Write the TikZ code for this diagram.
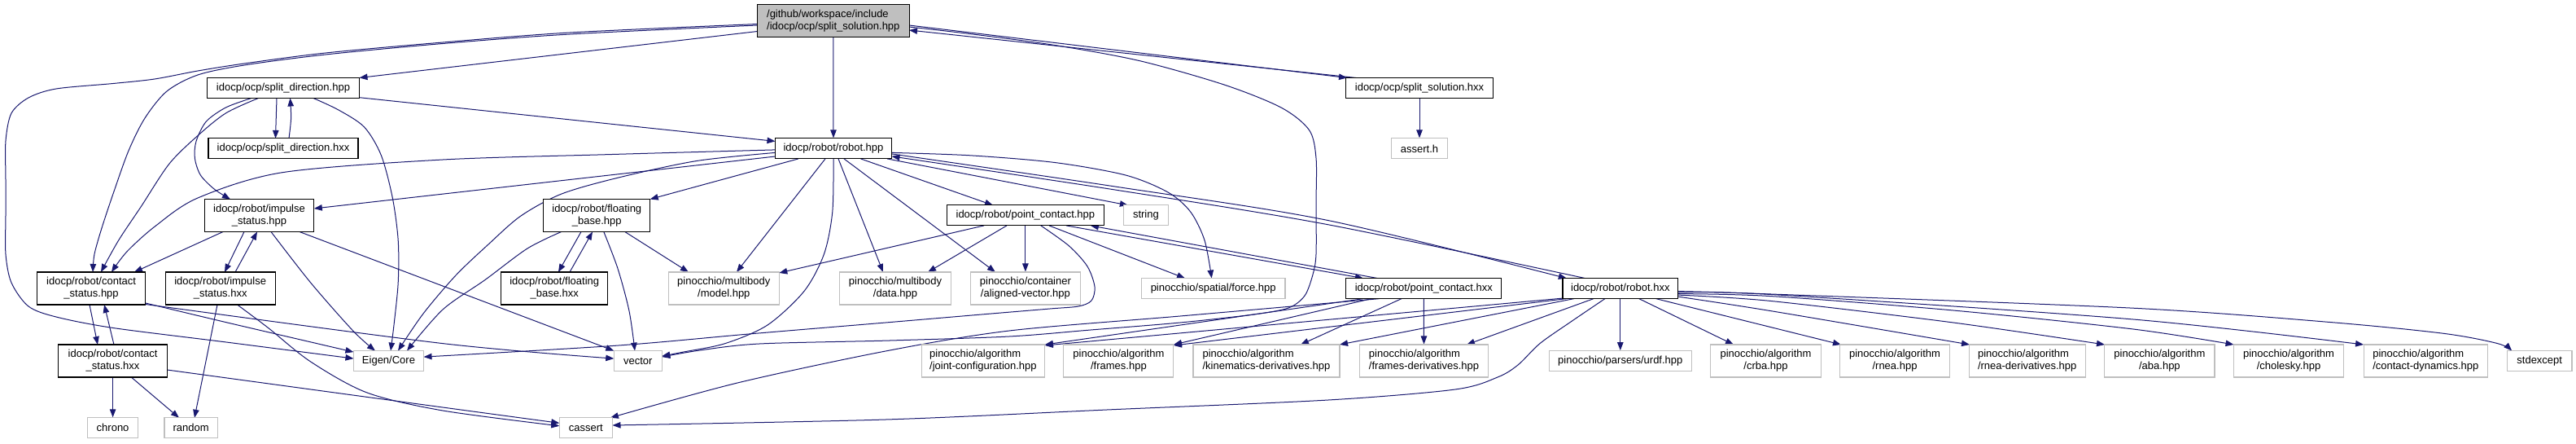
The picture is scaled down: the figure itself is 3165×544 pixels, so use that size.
\documentclass[tikz,border=0pt]{standalone}
\usepackage{fontspec}
\setmainfont{Liberation Sans}
\newfontfamily\nodefam{Liberation Sans}
\newcommand\nodefont{\nodefam\fontsize{13pt}{15pt}\selectfont}
\usetikzlibrary{arrows.meta,calc,backgrounds}
\definecolor{edgecol}{RGB}{25,25,112}
\definecolor{extgray}{RGB}{191,191,191}
\tikzset{
 base/.style={rectangle, inner sep=0pt, line width=1.1pt, font=\nodefont, align=center},
 int/.style={base, draw=black, fill=white},
 ext/.style={base, draw=extgray, fill=white},
 topnode/.style={base, draw=black, fill=extgray},
 one/.style={minimum height=25pt},
 two/.style={minimum height=40pt},
 bw/.style={minimum width=#1pt},
 conn/.style={draw=edgecol, line width=1pt, -{Triangle[length=10pt,width=7.5pt]}},
 sm/.style={smooth, tension=0.5},
}
\begin{document}
\begin{tikzpicture}[x=1pt,y=-1pt]
\useasboundingbox (0,0) rectangle (3165,544);
% nodes
\node[topnode,bw=186.5,two,align=left] (SS) at (1023.8,25.5) {/github/workspace/include\\/idocp/ocp/split\_solution.hpp};
\node[int,bw=187,one] (SDhpp) at (348,108) {idocp/ocp/split\_direction.hpp};
\node[int,bw=180.4,one] (SShxx) at (1744,108) {idocp/ocp/split\_solution.hxx};
\node[int,bw=184,one] (SDhxx) at (348,182.4) {idocp/ocp/split\_direction.hxx};
\node[int,bw=143,one] (RBhpp) at (1024,182.4) {idocp/robot/robot.hpp};
\node[ext,bw=68.4,one] (asserth) at (1744,182.4) {assert.h};
\node[int,bw=134.6,two] (IShpp) at (318.5,264.5) {idocp/robot/impulse\\\_status.hpp};
\node[int,bw=130.8,two] (FBhpp) at (733.3,264.5) {idocp/robot/floating\\\_base.hpp};
\node[int,bw=192.6,one] (PChpp) at (1259.9,264.4) {idocp/robot/point\_contact.hpp};
\node[ext,bw=54.8,one] (string) at (1407.9,264.4) {string};
\node[int,bw=133.2,two] (CShpp) at (112.1,354) {idocp/robot/contact\\\_status.hpp};
\node[int,bw=134.7,two] (IShxx) at (270.7,354) {idocp/robot/impulse\\\_status.hxx};
\node[int,bw=130.8,two] (FBhxx) at (681.2,354) {idocp/robot/floating\\\_base.hxx};
\node[ext,bw=136.1,two] (model) at (889.3,354) {pinocchio/multibody\\/model.hpp};
\node[ext,bw=136.3,two] (data) at (1100,354) {pinocchio/multibody\\/data.hpp};
\node[ext,bw=135,two] (aligned) at (1259.9,354) {pinocchio/container\\/aligned-vector.hpp};
\node[ext,bw=176.6,one] (force) at (1490.7,354.1) {pinocchio/spatial/force.hpp};
\node[int,bw=190.8,one] (PChxx) at (1749.3,354.1) {idocp/robot/point\_contact.hxx};
\node[int,bw=141.6,one] (RBhxx) at (1990.8,354.1) {idocp/robot/robot.hxx};
\node[int,bw=133.6,two] (CShxx) at (138.6,443) {idocp/robot/contact\\\_status.hxx};
\node[ext,bw=86.1,one] (eigen) at (477.5,443.1) {Eigen/Core};
\node[ext,bw=59,one] (vector) at (783.8,443.1) {vector};
\node[ext,bw=151,two,align=left] (jointcfg) at (1207.9,443) {pinocchio/algorithm\\/joint-configuration.hpp};
\node[ext,bw=135,two] (frames) at (1374.4,443) {pinocchio/algorithm\\/frames.hpp};
\node[ext,bw=180,two,align=left] (kinder) at (1556,443) {pinocchio/algorithm\\/kinematics-derivatives.hpp};
\node[ext,bw=157.9,two,align=left] (framesder) at (1749.5,443) {pinocchio/algorithm\\/frames-derivatives.hpp};
\node[ext,bw=174.9,one] (urdf) at (1990.8,443.1) {pinocchio/parsers/urdf.hpp};
\node[ext,bw=135.3,two] (crba) at (2169.5,443) {pinocchio/algorithm\\/crba.hpp};
\node[ext,bw=134.6,two] (rnea) at (2328,443) {pinocchio/algorithm\\/rnea.hpp};
\node[ext,bw=143,two,align=left] (rneader) at (2490.7,443) {pinocchio/algorithm\\/rnea-derivatives.hpp};
\node[ext,bw=135.1,two] (aba) at (2653.4,443) {pinocchio/algorithm\\/aba.hpp};
\node[ext,bw=135,two] (cholesky) at (2812,443) {pinocchio/algorithm\\/cholesky.hpp};
\node[ext,bw=152.4,two,align=left] (contactdyn) at (2980.3,443) {pinocchio/algorithm\\/contact-dynamics.hpp};
\node[ext,bw=79.5,one] (stdexcept) at (3120.2,443.1) {stdexcept};
\node[ext,bw=61.4,one] (chrono) at (138.6,525.3) {chrono};
\node[ext,bw=65.2,one] (random) at (234.6,525.3) {random};
\node[ext,bw=65.2,one] (cassert) at (719.9,525.3) {cassert};
% edges
\begin{pgfonlayer}{background}
\fill[white] (0,0) rectangle (3165,544);
% split_solution.hpp
\draw[conn] ($(SS)+(-93.3,13)$) -- ($(SDhpp)+(93.5,-12.5)$);
\draw[conn] (SS.south) -- (RBhpp.north);
\draw[conn] ($(SS)+(93.2,5.5)$) -- ($(SShxx)+(-89,-12.5)$);
\draw[conn] ($(SShxx)+(-78,-12.5)$) -- ($(SS)+(93.2,11.5)$);
\draw[conn] plot[sm] coordinates {($(SS)+(-93.3,5.5)$) (700,42) (544,53.5) (400,67) (300,80) (243,92) (205,112) (178,145) (158,185) (140,235) (125,280) (116,312) ($(CShpp)+(2,-20)$)};
\draw[conn] plot[sm] coordinates {($(SS)+(-93.3,4)$) (700,40) (544,52) (400,65) (300,78) (243,87) (190,97) (139,102.5) (69,109) (35,120) (14,139) (7,173) (7,220) (7,265) (7,312) (14,347) (35,376) (69,389) (139,402.5) (278,420) ($(eigen)+(-43.05,-3)$)};
\draw[conn] plot[sm] coordinates {($(SS)+(93.2,7.5)$) (1192,41.6) (1296,55.5) (1400,74.6) (1504,104) (1574,132) (1608.5,159.6) (1617,194) (1617,250) (1617,312) (1613,337) (1603,363) (1583,378) (1540,386) (1450,396) (1340,405) (1240,413) (1093,418) (933,422) (860,430) ($(vector)+(29.5,-5)$)};
\draw[conn] ($(SShxx.south)$) -- (asserth.north);
% split_direction
\draw[conn] ($(SDhpp)+(-8,12.5)$) -- ($(SDhxx)+(-9.5,-12.5)$);
\draw[conn] plot[sm] coordinates {($(SDhxx)+(7,-12.5)$) (357.6,145) ($(SDhpp)+(8.5,12.5)$)};
\draw[conn] ($(SDhpp)+(93.5,11.7)$) -- ($(RBhpp)+(-71.5,-9)$);
\draw[conn] plot[sm] coordinates {($(SDhpp)+(-39.2,12.5)$) (277.6,131.9) (253.3,149.2) (241,173.5) (239.4,194.3) (246.4,215) (263.7,232.5) ($(IShpp)+(-35.5,-20)$)};
\draw[conn] plot[sm] coordinates {($(SDhpp)+(-30.5,12.5)$) (277.6,138.8) (243,166.5) (208,201) (173.5,253.3) (145.7,295) ($(CShpp)+(11.9,-20)$)};
\draw[conn] plot[sm] coordinates {($(SDhpp)+(37,12.5)$) (416,135) (447.6,156) (468.4,190.8) (482.3,243) (489.2,295) (489.2,347) (484,399) ($(eigen)+(2.5,-12.5)$)};
% robot.hpp
\draw[conn] plot[sm] coordinates {($(RBhpp)+(-71.5,1.5)$) (752,189.5) (544,196) (347,211.7) (243,243) (190.8,277.6) (156,308.8) ($(CShpp)+(24.9,-20)$)};
\draw[conn] plot[sm] coordinates {($(RBhpp)+(-71.5,5)$) (856,197.5) (760,218) (690,238) (640,265) (600,300) (560,338) (520,385) ($(eigen)+(11.5,-12.5)$)};
\draw[conn] ($(RBhpp)+(-71.5,9.6)$) -- ($(IShpp)+(67.3,-8.5)$);
\draw[conn] ($(RBhpp)+(-43,12.5)$) -- ($(FBhpp)+(65.4,-20)$);
\draw[conn] ($(RBhpp)+(-10,12.5)$) -- ($(model)+(15.7,-20)$);
\draw[conn] plot[sm] coordinates {($(RBhpp)+(0,12.5)$) (1022.8,260) (1012.4,312) (988,357.4) (943,399) (891,421.6) (840,432) ($(vector)+(29.5,-6)$)};
\draw[conn] ($(RBhpp)+(6,12.5)$) -- ($(data)+(-15,-20)$);
\draw[conn] ($(RBhpp)+(13,12.5)$) -- ($(aligned)+(-36.9,-20)$);
\draw[conn] ($(RBhpp)+(33.5,12.5)$) -- ($(PChpp)+(-39.9,-12.5)$);
\draw[conn] ($(RBhpp)+(66,12.5)$) -- ($(string)+(-22,-12.5)$);
\draw[conn] plot[sm] coordinates {($(RBhpp)+(71.5,5)$) (1192,190.8) (1296,199.5) (1383,215) (1435,236) (1462.7,260) (1480,295) ($(force)+(-2,-12.5)$)};
\draw[conn] plot[sm] coordinates {($(RBhpp)+(71.5,6.5)$) (1370,229) (1632,270.6) ($(RBhxx)+(-66,-12.5)$)};
\draw[conn] plot[sm] coordinates {($(RBhxx)+(-43,-12.5)$) (1632,275.8) (1370,233) ($(RBhpp)+(71.5,9.5)$)};
% point_contact.hpp
\draw[conn] ($(PChpp)+(-50.9,12.5)$) -- ($(model)+(68,-19)$);
\draw[conn] ($(PChpp)+(-22.9,12.5)$) -- ($(data)+(40,-20)$);
\draw[conn] (PChpp.south) -- (aligned.north);
\draw[conn] plot[sm] coordinates {($(PChpp)+(18.9,12.5)$) (1313.5,301.9) (1336,327) (1345,352) (1341,369) (1325,376) (1290,379) (1200,386.5) (1088,396) (920,410) (760,424) ($(eigen)+(43.05,-5)$)};
\draw[conn] ($(PChpp)+(29.1,12.5)$) -- ($(force)+(-34.7,-12.5)$);
\draw[conn] ($(PChpp)+(50.1,12.5)$) -- ($(PChxx)+(-74.3,-12.5)$);
\draw[conn] ($(PChxx)+(-56.6,-12.5)$) -- ($(PChpp)+(80,12.5)$);
% floating base
\draw[conn] ($(FBhpp)+(-19.3,20)$) -- ($(FBhxx)+(4.8,-20)$);
\draw[conn] ($(FBhxx)+(18.8,-20)$) -- ($(FBhpp)+(-5.3,20)$);
\draw[conn] plot[sm] coordinates {($(FBhpp)+(-43.6,20)$) (648,305) (596,343.5) (544,380) ($(eigen)+(22.5,-12.5)$)};
\draw[conn] plot[sm] coordinates {($(FBhpp)+(8.5,20)$) (759,329.6) (773,381.7) ($(vector)+(-3.8,-12.5)$)};
\draw[conn] ($(FBhpp)+(34.5,20)$) -- ($(model)+(-43.3,-20)$);
% impulse status
\draw[conn] ($(IShpp)+(-44.5,20)$) -- ($(CShpp)+(52.9,-20)$);
\draw[conn] ($(IShpp)+(-18.5,20)$) -- ($(IShxx)+(5.3,-20)$);
\draw[conn] ($(IShxx)+(18.3,-20)$) -- ($(IShpp)+(-2.5,20)$);
\draw[conn] plot[sm] coordinates {($(IShpp)+(14.5,20)$) (381.7,347) (433.7,406) ($(eigen)+(-16.5,-12.5)$)};
\draw[conn] ($(IShpp)+(49.5,20)$) -- ($(vector)+(-29.5,-12.5)$);
\draw[conn] ($(IShxx)+(-3.7,20)$) -- ($(random)+(4.4,-12.5)$);
\draw[conn] plot[sm] coordinates {($(IShxx)+(20.8,20)$) (329.6,402.5) (381.7,444) (451,482) (544,504) ($(cassert)+(-32.6,-2.5)$)};
% contact status
\draw[conn] ($(CShpp)+(-2.1,20)$) -- ($(CShxx)+(-18.6,-20)$);
\draw[conn] ($(CShxx)+(1.4,-20)$) -- ($(CShpp)+(16,20)$);
\draw[conn] plot[sm] coordinates {($(CShpp)+(66.6,18)$) (277.6,395.6) ($(eigen)+(-43.05,-11)$)};
\draw[conn] plot[sm] coordinates {($(CShpp)+(66.6,19.5)$) (544,421.6) ($(vector)+(-29.5,-3)$)};
\draw[conn] (CShxx.south) -- (chrono.north);
\draw[conn] ($(CShxx)+(22.7,20)$) -- ($(random)+(-14.6,-12.5)$);
\draw[conn] plot[sm] coordinates {($(CShxx)+(66.8,11)$) (544,500) ($(cassert)+(-32.6,-6)$)};
% point_contact.hxx
\draw[conn] ($(PChxx)+(-74.3,12.5)$) -- ($(jointcfg)+(76,-20)$);
\draw[conn] ($(PChxx)+(-64.3,12.5)$) -- ($(frames)+(67.6,-20)$);
\draw[conn] ($(PChxx)+(-27.3,12.5)$) -- ($(kinder)+(42,-20)$);
\draw[conn] (PChxx.south) -- (framesder.north);
\draw[conn] plot[sm] coordinates {($(PChxx)+(-54.3,12.5)$) (1450,388) (1240,406) (1088,431) (906,470) ($(cassert)+(30,-12.5)$)};
% robot.hxx
\draw[conn] ($(RBhxx)+(-70.8,12)$) -- ($(jointcfg)+(76,-19)$);
\draw[conn] ($(RBhxx)+(-65.8,12.5)$) -- ($(frames)+(67.6,-19)$);
\draw[conn] ($(RBhxx)+(-56.8,12.5)$) -- ($(kinder)+(90,-20)$);
\draw[conn] ($(RBhxx)+(-32.8,12.5)$) -- ($(framesder)+(52.5,-20)$);
\draw[conn] plot[sm] coordinates {($(RBhxx)+(-18.8,12.5)$) (1930,395) (1892,421.6) (1865,448) (1840,463) (1788,478) (1632,491) (1360,503) (1088,515) ($(cassert)+(32.6,-3.3)$)};
\draw[conn] (RBhxx.south) -- (urdf.north);
\draw[conn] ($(RBhxx)+(22.9,12.5)$) -- ($(crba)+(-39.5,-20)$);
\draw[conn] ($(RBhxx)+(43.7,12.5)$) -- ($(rnea)+(-66,-20)$);
\draw[conn] plot[sm] coordinates {($(RBhxx)+(70.8,10)$) (2176,381.7) ($(rneader)+(-70.7,-20)$)};
\draw[conn] plot[sm] coordinates {($(RBhxx)+(70.8,8)$) (2176,369.5) (2400,396) ($(aba)+(-67.4,-20)$)};
\draw[conn] plot[sm] coordinates {($(RBhxx)+(70.8,6.5)$) (2176,363.6) (2400,381) (2621,404) ($(cholesky)+(-67.5,-20)$)};
\draw[conn] plot[sm] coordinates {($(RBhxx)+(70.8,5)$) (2176,361.5) (2621,392) ($(contactdyn)+(-76.2,-20)$)};
\draw[conn] plot[sm] coordinates {($(RBhxx)+(70.8,3.5)$) (2176,361) (2621,378.2) (2864,395.6) (3003,409.4) (3068.6,421.6) ($(stdexcept)+(-34,-12.5)$)};
\end{pgfonlayer}
\end{tikzpicture}
\end{document}
